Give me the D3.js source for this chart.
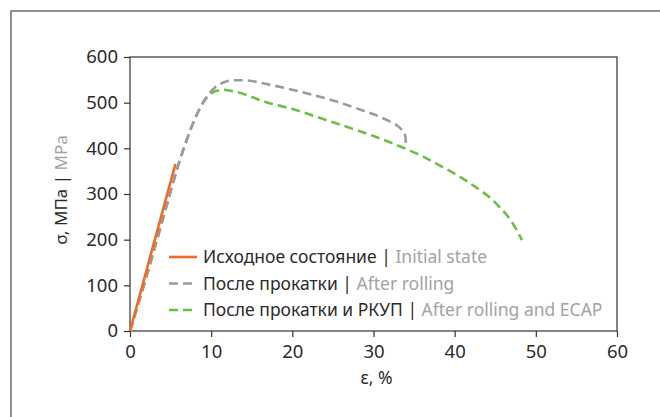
<!DOCTYPE html>
<html>
<head>
<meta charset="utf-8">
<script src="https://cdn.jsdelivr.net/npm/d3@7"></script>
<style>
  body { margin: 0; background: #fff; }
  svg text { font-family: "Noto Sans", "Open Sans", sans-serif; }
</style>
</head>
<body>
<div id="chart"></div>
<script>
// strain (%) / stress (MPa)
const initialState = [[0, 0], [5.6, 366]];
const afterRolling = [[0, 0], [2, 118], [4, 242], [6, 366], [7.5, 443], [8.5, 484], [9.5, 514], [10.5, 534],
  [11.5, 544], [12.8, 549], [14, 549], [17, 540], [21, 524], [25, 505], [28, 487], [30.5, 471], [32.2, 457],
  [33.3, 444], [33.9, 428], [34, 411]];
const afterEcap = [[0, 0], [2, 118], [4, 242], [6, 366], [7.5, 443], [8.5, 484], [9.5, 512], [10.5, 525],
  [11.5, 528], [13, 524], [16.8, 501], [20, 486], [25, 457], [30, 427], [33.3, 404], [36, 383], [38.2, 362],
  [40.7, 337], [42.5, 316], [44, 297], [45.6, 270], [47, 240], [48.3, 199]];

const xTicks = [0, 10, 20, 30, 40, 50, 60];
const yTicks = [0, 100, 200, 300, 400, 500, 600];

const series = [
  { name: "Исходное состояние", en: "Initial state", data: initialState, color: "#f26a24", dash: null },
  { name: "После прокатки", en: "After rolling", data: afterRolling, color: "#9b9b9d", dash: "9,5" },
  { name: "После прокатки и РКУП", en: "After rolling and ECAP", data: afterEcap, color: "#6cbf45", dash: "9,5" }
];

const W = 660, H = 417;
const margin = { top: 57, right: 43, bottom: 86, left: 130 };
const iw = W - margin.left - margin.right;
const ih = H - margin.top - margin.bottom;

const svg = d3.select("#chart").append("svg").attr("width", W).attr("height", H);

// outer frame (top + left only)
svg.append("path").attr("d", `M11,${H} V11 H${W}`).attr("fill", "none").attr("stroke", "#6b6b6b").attr("stroke-width", 1.5);

const g = svg.append("g").attr("transform", `translate(${margin.left},${margin.top})`);
const x = d3.scaleLinear().domain([0, 60]).range([0, iw]);
const y = d3.scaleLinear().domain([0, 600]).range([ih, 0]);

const xAxis = g.append("g").attr("transform", `translate(0,${ih})`)
  .call(d3.axisBottom(x).tickValues(xTicks).tickSize(6).tickPadding(8).tickSizeOuter(0));
const yAxis = g.append("g")
  .call(d3.axisLeft(y).tickValues(yTicks).tickSize(6).tickPadding(6).tickSizeOuter(0));
[xAxis, yAxis].forEach(a => {
  a.select(".domain").remove();
  a.selectAll("line").attr("stroke", "#333").attr("stroke-width", 1.2);
  a.selectAll("text").attr("fill", "#2b2b2b").style("font-size", "18.5px");
});

// plot box
g.append("rect").attr("width", iw).attr("height", ih).attr("fill", "none").attr("stroke", "#333").attr("stroke-width", 1.2);

const line = d3.line().x(d => x(d[0])).y(d => y(d[1])).curve(d3.curveMonotoneX);
series.slice().reverse().forEach(s => {
  g.append("path").datum(s.data).attr("d", line).attr("fill", "none")
    .attr("stroke", s.color).attr("stroke-width", 2.6)
    .attr("stroke-dasharray", s.dash);
});

// legend
const lg = g.append("g").attr("transform", `translate(${169 - margin.left},${257 - margin.top})`);
series.forEach((s, i) => {
  const row = lg.append("g").attr("transform", `translate(0,${i * 26.5})`);
  row.append("line").attr("x1", 0).attr("x2", 28).attr("stroke", s.color).attr("stroke-width", 2.6)
    .attr("stroke-dasharray", s.dash);
  const t = row.append("text").attr("x", 34).attr("dy", "0.35em").style("font-size", "17.5px");
  t.append("tspan").attr("fill", "#2b2b2b").text(s.name + " | ");
  t.append("tspan").attr("fill", "#a3a3a3").text(s.en);
});

// axis titles
svg.append("text").attr("x", margin.left + iw / 2 + 3).attr("y", 384).attr("text-anchor", "middle")
  .attr("fill", "#2b2b2b").style("font-size", "17.5px").text("ε, %");
const yl = svg.append("text").attr("transform", `translate(67,${margin.top + ih / 2 - 4}) rotate(-90)`)
  .attr("text-anchor", "middle").style("font-size", "17px");
yl.append("tspan").attr("fill", "#2b2b2b").text("σ, МПа | ");
yl.append("tspan").attr("fill", "#a3a3a3").text("MPa");
</script>
</body>
</html>
